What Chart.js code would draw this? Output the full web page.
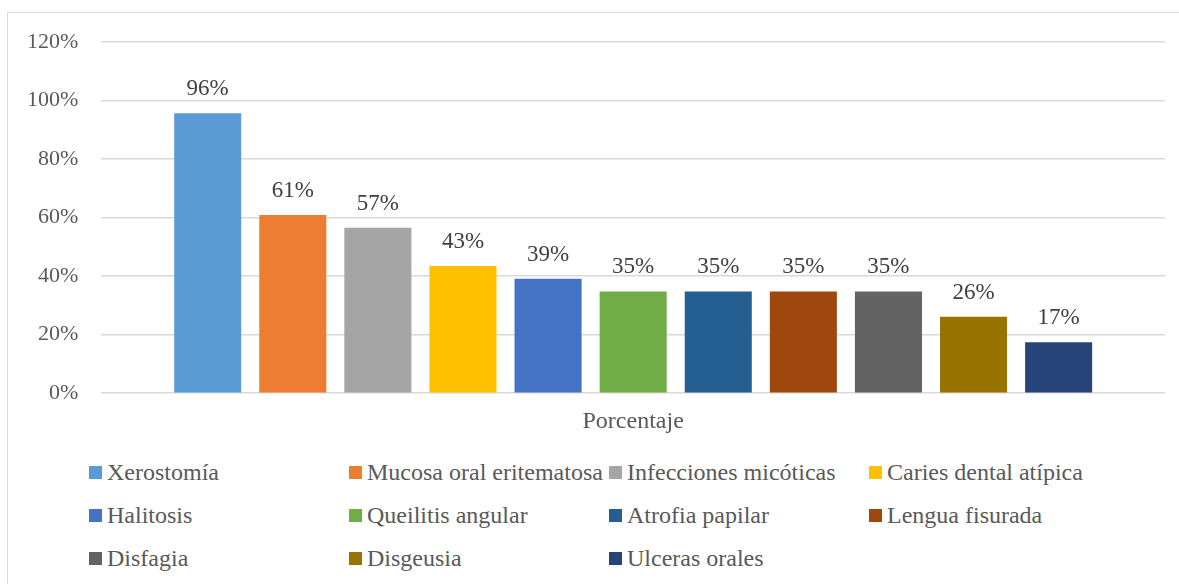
<!DOCTYPE html>
<html>
<head>
<meta charset="utf-8">
<script src="https://cdn.jsdelivr.net/npm/chart.js@4"></script>
<style>
  body { margin: 0; background: #fff; font-family: "Liberation Serif", Tinos, "Times New Roman", Times, "DejaVu Serif", serif; }
  #wrap { position: relative; width: 1179px; height: 584px; overflow: hidden; }
  #frame { position: absolute; left: 7px; top: 12px; width: 1180px; height: 600px; border: 1.5px solid #d9d9d9; box-sizing: border-box; }
  #chart { position: absolute; left: 0; top: 0; }
  #legend { position: absolute; left: 89px; top: 459px; display: grid; grid-template-columns: repeat(4, 260px); grid-auto-rows: 43px; }
  .item { display: flex; align-items: center; height: 26px; font-size: 24px; color: #595959; white-space: nowrap; }
  .box { width: 13px; height: 13px; margin-right: 5px; flex: none; }
</style>
</head>
<body>
<div id="wrap">
  <div id="frame"></div>
  <canvas id="chart" width="1179" height="450"></canvas>
  <div id="legend"></div>
</div>
<script>
// data
var categories = ['Porcentaje'];
var seriesNames = ['Xerostomía', 'Mucosa oral eritematosa', 'Infecciones micóticas', 'Caries dental atípica',
                   'Halitosis', 'Queilitis angular', 'Atrofia papilar', 'Lengua fisurada',
                   'Disfagia', 'Disgeusia', 'Ulceras orales'];
var seriesValues = [95.65, 60.87, 56.52, 43.48, 39.13, 34.78, 34.78, 34.78, 34.78, 26.09, 17.39];
var seriesColors = ['#5B9BD5', '#ED7D31', '#A5A5A5', '#FFC000', '#4472C4', '#70AD47',
                    '#255E91', '#9E480E', '#636363', '#997300', '#264478'];
var yTicks = [0, 20, 40, 60, 80, 100, 120];

var textColor = '#595959';
var fontFam = '"Liberation Serif", Tinos, "Times New Roman", Times, "DejaVu Serif", serif';

var datasets = seriesNames.map(function(name, i) {
  return {
    label: name,
    data: [seriesValues[i]],
    backgroundColor: seriesColors[i],
    borderWidth: 0,
    categoryPercentage: 0.88,
    barPercentage: 0.788
  };
});

// value labels above the bars
var barLabels = {
  id: 'barLabels',
  afterDatasetsDraw: function(chart) {
    var ctx = chart.ctx;
    ctx.save();
    ctx.fillStyle = '#404040';
    ctx.font = '23px ' + fontFam;
    ctx.textAlign = 'center';
    ctx.textBaseline = 'alphabetic';
    chart.data.datasets.forEach(function(ds, i) {
      chart.getDatasetMeta(i).data.forEach(function(bar, j) {
        ctx.fillText(Math.round(ds.data[j]) + '%', bar.x, bar.y - 18);
      });
    });
    ctx.restore();
  }
};

var ctx = document.getElementById('chart').getContext('2d');
var chart = new Chart(ctx, {
  type: 'bar',
  data: { labels: categories, datasets: datasets },
  options: {
    responsive: false,
    animation: false,
    layout: { padding: { left: 4, right: 14, top: 42, bottom: 0 } },
    plugins: {
      legend: { display: false },
      tooltip: { enabled: false }
    },
    scales: {
      x: {
        grid: { display: false, drawTicks: false },
        border: { display: false },
        ticks: { color: textColor, padding: 14, font: { family: fontFam, size: 24 } }
      },
      y: {
        min: 0,
        max: 120,
        afterBuildTicks: function(axis) {
          axis.ticks = yTicks.map(function(v) { return { value: v }; });
        },
        grid: { color: '#d9d9d9', lineWidth: 1.5, drawTicks: false },
        border: { display: false },
        ticks: {
          color: textColor,
          padding: 23,
          font: { family: fontFam, size: 22 },
          callback: function(v) { return v + '%'; }
        }
      }
    }
  },
  plugins: [barLabels]
});

// legend laid out in a four-column grid like the original
var legendEl = document.getElementById('legend');
seriesNames.forEach(function(name, i) {
  var item = document.createElement('div');
  item.className = 'item';
  var box = document.createElement('span');
  box.className = 'box';
  box.style.background = seriesColors[i];
  var txt = document.createElement('span');
  txt.textContent = name;
  item.appendChild(box);
  item.appendChild(txt);
  legendEl.appendChild(item);
});
</script>
</body>
</html>
